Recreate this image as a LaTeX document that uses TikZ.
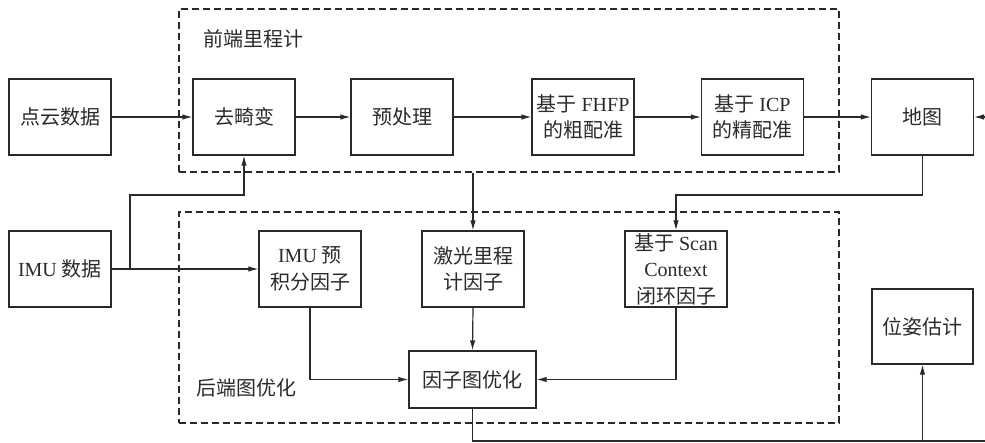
\documentclass[tikz,border=0pt]{standalone}
\usepackage{fontspec}
\setmainfont{Liberation Serif}
\newfontfamily\cjk{Noto Sans CJK SC}
\usetikzlibrary{arrows.meta}
\newcommand{\zh}[1]{{\cjk #1}}
\definecolor{ink}{HTML}{2A2A2A}
\begin{document}
\begin{tikzpicture}[x=1pt,y=-1pt,
  box/.style={draw=ink,line width=1.2pt,minimum width=102pt,minimum height=76pt,align=center,inner sep=1pt,text=ink,font=\fontsize{20}{26.5}\selectfont},
  group/.style={draw=ink,line width=1.1pt,dash pattern=on 7pt off 4pt},
  lbl/.style={text=ink,font=\fontsize{20}{26}\selectfont,inner sep=0pt},
  arr/.style={draw=ink,line width=1.2pt,-{Latex[length=10pt,width=5.5pt]}},
  ln/.style={draw=ink,line width=1.2pt}]
\useasboundingbox (0,0) rectangle (985,443);
% groups
\node[group,inner sep=0pt,minimum width=660pt,minimum height=163pt] (front) at (509,90.5) {};
\node[group,inner sep=0pt,minimum width=660pt,minimum height=211pt] (back) at (509,317.5) {};
\node[lbl] (tfront) at (253,39) {\zh{前端里程计}};
\node[lbl] (tback) at (246,388) {\zh{后端图优化}};
% top row
\node[box] (pc) at (60,117) {\zh{点云数据}};
\node[box] (qjb) at (244,117) {\zh{去畸变}};
\node[box] (ycl) at (402,117) {\zh{预处理}};
\node[box] (fhfp) at (583,117) {\zh{基于} FHFP\\\zh{的粗配准}};
\node[box] (icp) at (752.5,117) {\zh{基于} ICP\\\zh{的精配准}};
\node[box] (map) at (922.5,117) {\zh{地图}};
% second row
\node[box] (imu) at (60,269) {IMU \zh{数据}};
\node[box] (imupre) at (310,269) {IMU \zh{预}\\\zh{积分因子}};
\node[box] (laser) at (473,269) {\zh{激光里程}\\\zh{计因子}};
\node[box] (scan) at (676,269) {\zh{基于} Scan\\Context\\\zh{闭环因子}};
\node[box,minimum width=127pt,minimum height=57pt] (fg) at (472.5,379.5) {\zh{因子图优化}};
\node[box,minimum width=101pt,minimum height=75pt] (pose) at (922.5,326.5) {\zh{位姿估计}};
% coordinates
\coordinate (j1) at (130,269);
\coordinate (r1) at (985,117);
\coordinate (r2) at (985,441);
% connectors
\draw[arr] (pc) -- (qjb);
\draw[arr] (qjb) -- (ycl);
\draw[arr] (ycl) -- (fhfp);
\draw[arr] (fhfp) -- (icp);
\draw[arr] (icp) -- (map);
\draw[arr] (r1) -- (map.east);
\draw[arr] (imu.east) -- (imupre.west);
\draw[arr] (j1) |- (qjb.south |- 0,195) -- (qjb.south);
\draw[arr] (front.south -| laser.north) -- (laser.north);
\draw[arr] (map.south) |- (scan.north |- 0,195) -- (scan.north);
\draw[arr] (laser.south) -- (fg.north);
\draw[arr] (imupre.south) |- (fg.west);
\draw[arr] (scan.south) |- (fg.east);
\draw[ln] (fg.south) |- (r2);
\draw[arr] (pose.south |- r2) -- (pose.south);
\end{tikzpicture}
\end{document}
